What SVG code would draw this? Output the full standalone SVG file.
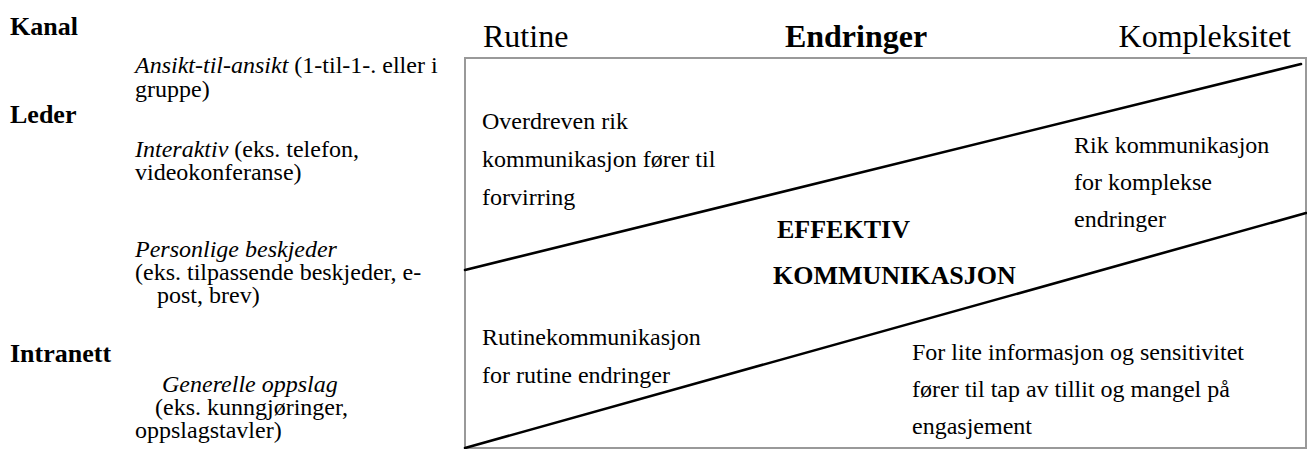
<svg xmlns="http://www.w3.org/2000/svg" width="1307" height="449" viewBox="0 0 1307 449">
  <style>
    .divider { stroke: #000; stroke-width: 2.6; fill: none; stroke-linecap: round; }
    .frame { fill: #fff; stroke: #999; stroke-width: 2; }
  </style>

  <!-- channel list -->
  <g id="channels" font-family="Liberation Serif" font-size="24" fill="#000">
    <text x="10" y="35" font-weight="bold" font-size="26">Kanal</text>
    <text x="135" y="73"><tspan font-style="italic">Ansikt-til-ansikt</tspan> (1-til-1-. eller i</text>
    <text x="135" y="97">gruppe)</text>
    <text x="10" y="123" font-weight="bold" font-size="26">Leder</text>
    <text x="135" y="157"><tspan font-style="italic">Interaktiv</tspan> (eks. telefon,</text>
    <text x="135" y="180">videokonferanse)</text>
    <text x="135" y="257" font-style="italic">Personlige beskjeder</text>
    <text x="135" y="280">(eks. tilpassende beskjeder, e-</text>
    <text x="157" y="303">post, brev)</text>
    <text x="10" y="362" font-weight="bold" font-size="26">Intranett</text>
    <text x="162" y="392" font-style="italic">Generelle oppslag</text>
    <text x="155" y="415">(eks. kunngjøringer,</text>
    <text x="135" y="438">oppslagstavler)</text>
  </g>

  <!-- axis labels -->
  <g id="axis" font-family="Liberation Serif" font-size="32" fill="#000">
    <text x="483" y="47">Rutine</text>
    <text x="856" y="47" text-anchor="middle" font-weight="bold">Endringer</text>
    <text x="1291" y="47" text-anchor="end">Kompleksitet</text>
  </g>

  <!-- matrix frame -->
  <g id="frame">
    <rect class="frame" x="465" y="58" width="841" height="390"/>
  </g>

  <!-- diagonal dividers -->
  <g id="connectors">
    <line class="divider" x1="465" y1="270" x2="1301" y2="64"/>
    <line class="divider" x1="465" y1="448" x2="1306" y2="213"/>
  </g>

  <g id="zone-overdone" font-family="Liberation Serif" font-size="24" fill="#000">
    <text x="482" y="129">Overdreven rik</text>
    <text x="482" y="167">kommunikasjon fører til</text>
    <text x="482" y="205">forvirring</text>
  </g>

  <g id="zone-rich" font-family="Liberation Serif" font-size="24" fill="#000">
    <text x="1074" y="153">Rik kommunikasjon</text>
    <text x="1074" y="190">for komplekse</text>
    <text x="1074" y="227">endringer</text>
  </g>

  <g id="zone-effective" font-family="Liberation Serif" font-size="26" font-weight="bold" fill="#000">
    <text x="777" y="238">EFFEKTIV</text>
    <text x="773" y="284">KOMMUNIKASJON</text>
  </g>

  <g id="zone-routine" font-family="Liberation Serif" font-size="24" fill="#000">
    <text x="482" y="345">Rutinekommunikasjon</text>
    <text x="482" y="383">for rutine endringer</text>
  </g>

  <g id="zone-toolittle" font-family="Liberation Serif" font-size="24" fill="#000">
    <text x="912" y="360">For lite informasjon og sensitivitet</text>
    <text x="912" y="397">fører til tap av tillit og mangel på</text>
    <text x="912" y="434">engasjement</text>
  </g>
</svg>
